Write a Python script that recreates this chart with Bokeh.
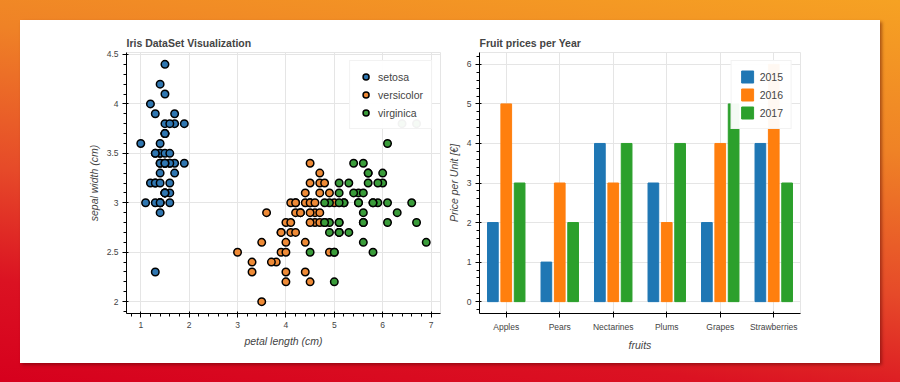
from bokeh.plotting import figure
from bokeh.layouts import row, column
from bokeh.models import ColumnDataSource
from bokeh.transform import dodge
from bokeh.embed import file_html
from bokeh.resources import INLINE

# ---------------- data: Iris (petal length vs sepal width) ----------------
species = ["setosa", "versicolor", "virginica"]

setosa_petal_length = [1.4, 1.4, 1.3, 1.5, 1.4, 1.7, 1.4, 1.5, 1.4, 1.5,
                       1.5, 1.6, 1.4, 1.1, 1.2, 1.5, 1.3, 1.4, 1.7, 1.5,
                       1.7, 1.5, 1.0, 1.7, 1.9, 1.6, 1.6, 1.5, 1.4, 1.6,
                       1.6, 1.5, 1.5, 1.4, 1.5, 1.2, 1.3, 1.5, 1.3, 1.5,
                       1.3, 1.3, 1.3, 1.6, 1.9, 1.4, 1.6, 1.4, 1.5, 1.4]
setosa_sepal_width = [3.5, 3.0, 3.2, 3.1, 3.6, 3.9, 3.4, 3.4, 2.9, 3.1,
                      3.7, 3.4, 3.0, 3.0, 4.0, 4.4, 3.9, 3.5, 3.8, 3.8,
                      3.4, 3.7, 3.6, 3.3, 3.4, 3.0, 3.4, 3.5, 3.4, 3.2,
                      3.1, 3.4, 4.1, 4.2, 3.1, 3.2, 3.5, 3.1, 3.0, 3.4,
                      3.5, 2.3, 3.2, 3.5, 3.8, 3.0, 3.8, 3.2, 3.7, 3.3]

versicolor_petal_length = [4.7, 4.5, 4.9, 4.0, 4.6, 4.5, 4.7, 3.3, 4.6, 3.9,
                           3.5, 4.2, 4.0, 4.7, 3.6, 4.4, 4.5, 4.1, 4.5, 3.9,
                           4.8, 4.0, 4.9, 4.7, 4.3, 4.4, 4.8, 5.0, 4.5, 3.5,
                           3.8, 3.7, 3.9, 5.1, 4.5, 4.5, 4.7, 4.4, 4.1, 4.0,
                           4.4, 4.6, 4.0, 3.3, 4.2, 4.2, 4.2, 4.3, 3.0, 4.1]
versicolor_sepal_width = [3.2, 3.2, 3.1, 2.3, 2.8, 2.8, 3.3, 2.4, 2.9, 2.7,
                          2.0, 3.0, 2.2, 2.9, 2.9, 3.1, 3.0, 2.7, 2.2, 2.5,
                          3.2, 2.8, 2.5, 2.8, 2.9, 3.0, 2.8, 3.0, 2.9, 2.6,
                          2.4, 2.4, 2.7, 2.7, 3.0, 3.4, 3.1, 2.3, 3.0, 2.5,
                          2.6, 3.0, 2.6, 2.3, 2.7, 3.0, 2.9, 2.9, 2.5, 2.8]

virginica_petal_length = [6.0, 5.1, 5.9, 5.6, 5.8, 6.6, 4.5, 6.3, 5.8, 6.1,
                          5.1, 5.3, 5.5, 5.0, 5.1, 5.3, 5.5, 6.7, 6.9, 5.0,
                          5.7, 4.9, 6.7, 4.9, 5.7, 6.0, 4.8, 4.9, 5.6, 5.8,
                          6.1, 6.4, 5.6, 5.1, 5.6, 6.1, 5.6, 5.5, 4.8, 5.4,
                          5.6, 5.1, 5.1, 5.9, 5.7, 5.2, 5.0, 5.2, 5.4, 5.1]
virginica_sepal_width = [3.3, 2.7, 3.0, 2.9, 3.0, 3.0, 2.5, 2.9, 2.5, 3.6,
                         3.2, 2.7, 3.0, 2.5, 2.8, 3.2, 3.0, 3.8, 2.6, 2.2,
                         3.2, 2.8, 2.8, 2.7, 3.3, 3.2, 2.8, 3.0, 2.8, 3.0,
                         2.8, 3.8, 2.8, 2.8, 2.6, 3.0, 3.4, 3.1, 3.0, 3.1,
                         3.1, 3.1, 2.7, 3.2, 3.3, 3.0, 2.5, 3.0, 3.4, 3.0]

# ---------------- data: fruit prices ----------------
fruits = ["Apples", "Pears", "Nectarines", "Plums", "Grapes", "Strawberries"]
years = ["2015", "2016", "2017"]
prices_2015 = [2, 1, 4, 3, 2, 4]
prices_2016 = [5, 3, 3, 2, 4, 6]
prices_2017 = [3, 2, 4, 4, 5, 3]

FONT = "Liberation Sans"
TEXT = "#444444"
scatter_colors = ["#2f76b0", "#ee8a36", "#3a9c3a"]
bar_colors = ["#1f77b4", "#ff7f0e", "#2ca02c"]


def style(p):
    p.title.text_font = FONT
    p.title.text_font_size = "10.5px"
    p.title.text_font_style = "bold"
    p.title.text_color = TEXT
    p.title.standoff = 7
    for ax in p.axis:
        ax.major_label_text_font = FONT
        ax.major_label_text_font_size = "8.5px"
        ax.major_label_text_color = TEXT
        ax.axis_label_text_font = FONT
        ax.axis_label_text_font_size = "10.5px"
        ax.axis_label_text_font_style = "italic"
        ax.axis_label_text_color = TEXT
        ax.axis_label_standoff = 4
        ax.major_label_standoff = 4
        ax.major_tick_out = 4
        ax.major_tick_in = 2
        ax.minor_tick_out = 3
        ax.minor_tick_in = 0
    lg = p.legend[0]
    lg.location = "top_right"
    lg.label_text_font = FONT
    lg.label_text_font_size = "10.5px"
    lg.label_text_color = TEXT
    lg.glyph_width = 15
    lg.glyph_height = 15
    lg.label_height = 15
    lg.label_standoff = 5
    lg.spacing = 3
    lg.padding = 8
    lg.margin = 8


# ---------------- left: iris scatter ----------------
left = figure(width=424, height=343, title="Iris DataSet Visualization",
              x_axis_label="petal length (cm)", y_axis_label="sepal width (cm)",
              output_backend="svg", toolbar_location=None, tools="",
              min_border_left=106, min_border_right=4,
              min_border_top=32, min_border_bottom=50)

iris_x = [setosa_petal_length, versicolor_petal_length, virginica_petal_length]
iris_y = [setosa_sepal_width, versicolor_sepal_width, virginica_sepal_width]
for name, xs, ys, col in zip(species, iris_x, iris_y, scatter_colors):
    left.scatter(xs, ys, size=7.5, fill_color=col, fill_alpha=1.0,
                 line_color="black", line_width=1.5, legend_label=name)
style(left)

# ---------------- right: fruit bars ----------------
source = ColumnDataSource(data=dict(fruits=fruits, y2015=prices_2015,
                                    y2016=prices_2016, y2017=prices_2017))
right = figure(x_range=fruits, width=436, height=343, title="Fruit prices per Year",
               x_axis_label="fruits", y_axis_label="Price per Unit [€]",
               output_backend="svg", toolbar_location=None, tools="",
               min_border_left=32, min_border_right=80,
               min_border_top=32, min_border_bottom=50)
offsets = [-0.25, 0.0, 0.25]
for yr, off, col in zip(years, offsets, bar_colors):
    right.vbar(x=dodge("fruits", off, range=right.x_range), top="y" + yr,
               width=0.2, source=source, fill_color=col, line_color=col,
               legend_label=yr)
right.x_range.range_padding = 0.0
style(right)

panel = row(left, right, margin=(20, 20, 19, 20),
            styles={"background-color": "white",
                    "box-shadow": "2px 2px 3px rgba(80,0,0,0.45)"})
page = column(panel, styles={
    "background": "linear-gradient(188deg, #f6a223 0%, #ef8226 30%, #e64a29 58%, #db1222 80%, #d6001d 100%)"})

open("out.html", "w").write(file_html(page, INLINE))
